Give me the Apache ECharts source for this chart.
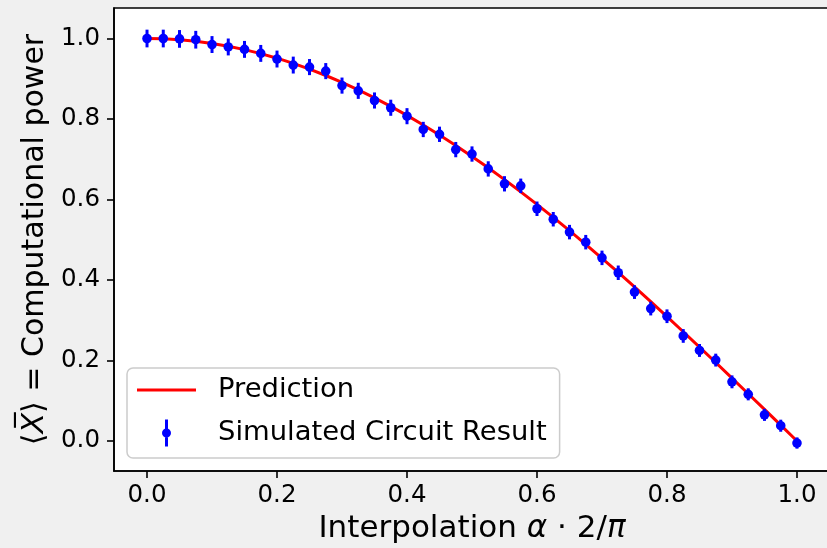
<!DOCTYPE html>
<html>
<head>
<meta charset="utf-8">
<script src="https://cdn.jsdelivr.net/npm/echarts@6/dist/echarts.min.js"></script>
<style>
html,body{margin:0;padding:0;background:#f0f0f0;}
#chart{width:827px;height:548px;}
</style>
</head>
<body>
<div id="chart"></div>
<script>
// Data
const xValues = [0, 0.025, 0.05, 0.075, 0.1, 0.125, 0.15, 0.175, 0.2, 0.225, 0.25, 0.275, 0.3, 0.325, 0.35, 0.375, 0.4, 0.425, 0.45, 0.475, 0.5, 0.525, 0.55, 0.575, 0.6, 0.625, 0.65, 0.675, 0.7, 0.725, 0.75, 0.775, 0.8, 0.825, 0.85, 0.875, 0.9, 0.925, 0.95, 0.975, 1.0];
const prediction = [1.0, 0.9992, 0.9969, 0.9931, 0.9877, 0.9808, 0.9724, 0.9625, 0.9511, 0.9382, 0.9239, 0.9081, 0.8910, 0.8725, 0.8526, 0.8315, 0.8090, 0.7853, 0.7604, 0.7343, 0.7071, 0.6788, 0.6494, 0.6191, 0.5878, 0.5556, 0.5225, 0.4886, 0.4540, 0.4187, 0.3827, 0.3461, 0.3090, 0.2714, 0.2334, 0.1951, 0.1564, 0.1175, 0.0785, 0.0393, 0.0];
const simulated = [1.000, 1.000, 0.999, 0.997, 0.985, 0.979, 0.973, 0.963, 0.949, 0.934, 0.929, 0.919, 0.883, 0.870, 0.846, 0.828, 0.807, 0.774, 0.762, 0.724, 0.713, 0.676, 0.639, 0.634, 0.577, 0.551, 0.519, 0.494, 0.455, 0.418, 0.370, 0.329, 0.310, 0.261, 0.225, 0.201, 0.147, 0.116, 0.065, 0.038, -0.005];
const simErrors = [0.022, 0.022, 0.022, 0.022, 0.021, 0.021, 0.021, 0.021, 0.021, 0.021, 0.020, 0.020, 0.020, 0.020, 0.020, 0.020, 0.020, 0.019, 0.019, 0.019, 0.019, 0.019, 0.019, 0.018, 0.018, 0.018, 0.018, 0.018, 0.018, 0.018, 0.017, 0.017, 0.017, 0.017, 0.016, 0.016, 0.016, 0.015, 0.015, 0.015, 0.014];
const tickValues = [0, 0.2, 0.4, 0.6, 0.8, 1.0];
const seriesNames = ['Prediction', 'Simulated Circuit Result'];

const FONT = 'DejaVu Sans';
const chart = echarts.init(document.getElementById('chart'));

const predData = xValues.map((x, i) => [x, prediction[i]]);
const simData = xValues.map((x, i) => [x, simulated[i], simErrors[i]]);

const lineIcon = 'path://M0 0 M59 28 M0 12.5 L59 12.5 L59 15.5 L0 15.5 Z';
const errIcon = 'path://M0 0 M59 28 M28 0.5 L31 0.5 L31 27.5 L28 27.5 Z M25 14 A4.5 4.5 0 1 1 34 14 A4.5 4.5 0 1 1 25 14 Z';

chart.setOption({
  backgroundColor: '#f0f0f0',
  animation: false,
  grid: {
    left: 114, top: 8, width: 716, bottom: 77,
    outerBoundsMode: 'none', containLabel: false,
    show: true, backgroundColor: '#ffffff', borderColor: '#000000', borderWidth: 1.6
  },
  legend: {
    orient: 'vertical',
    left: 127, top: 368,
    padding: [7, 13, 10, 10],
    itemWidth: 59, itemHeight: 28, itemGap: 13,
    backgroundColor: 'rgba(255,255,255,0.8)',
    borderColor: '#cccccc', borderWidth: 1.5, borderRadius: 6,
    textStyle: { fontFamily: FONT, fontSize: 27.4, color: '#000', padding: [0, 0, 0, 17], lineHeight: 30 },
    data: [
      { name: seriesNames[0], icon: lineIcon },
      { name: seriesNames[1], icon: errIcon }
    ]
  },
  xAxis: {
    type: 'value', min: -0.0508, max: 1.0508,
    splitLine: { show: false },
    axisLine: { show: true, onZero: false, lineStyle: { color: '#000', width: 1.6 } },
    axisTick: { show: true, inside: false, customValues: tickValues, length: 7, lineStyle: { color: '#000', width: 1.6 } },
    axisLabel: { customValues: tickValues, formatter: v => v.toFixed(1), fontFamily: FONT, fontSize: 24.5, color: '#000', margin: 12 },
    name: '{a|Interpolation }{i|α}{a| · 2/}{i|π}',
    nameLocation: 'middle', nameGap: 42,
    nameTextStyle: {
      rich: {
        a: { fontFamily: FONT, fontSize: 31, color: '#000' },
        i: { fontFamily: FONT, fontSize: 31, fontStyle: 'italic', color: '#000' }
      }
    }
  },
  yAxis: {
    type: 'value', min: -0.0745, max: 1.0758,
    splitLine: { show: false },
    axisLine: { show: true, onZero: false, lineStyle: { color: '#000', width: 1.6 } },
    axisTick: { show: true, inside: false, customValues: tickValues, length: 7, lineStyle: { color: '#000', width: 1.6 } },
    axisLabel: { customValues: tickValues, formatter: v => v.toFixed(1), fontFamily: FONT, fontSize: 24.5, color: '#000', margin: 14 },
    name: '{a|⟨}{i|X̅}{a|⟩ = Computational power}',
    nameLocation: 'middle', nameGap: 64,
    nameTextStyle: {
      rich: {
        a: { fontFamily: FONT, fontSize: 30, color: '#000' },
        i: { fontFamily: FONT, fontSize: 30, fontStyle: 'italic', color: '#000' }
      }
    }
  },
  series: [
    {
      name: seriesNames[0], type: 'line', data: predData,
      showSymbol: false, symbol: 'none',
      lineStyle: { color: '#ff0000', width: 3 },
      itemStyle: { color: '#ff0000' },
      z: 2
    },
    {
      name: seriesNames[1], type: 'custom', data: simData,
      itemStyle: { color: '#0000ff' },
      encode: { x: 0, y: 1 },
      z: 3,
      renderItem: function (params, api) {
        const x = api.value(0), y = api.value(1), e = api.value(2);
        const top = api.coord([x, y + e]);
        const bot = api.coord([x, y - e]);
        const c = api.coord([x, y]);
        return {
          type: 'group',
          children: [
            { type: 'line', shape: { x1: top[0], y1: top[1], x2: bot[0], y2: bot[1] }, style: { stroke: '#0000ff', lineWidth: 3 } },
            { type: 'circle', shape: { cx: c[0], cy: c[1], r: 4.8 }, style: { fill: '#0000ff' } }
          ]
        };
      }
    }
  ]
});
</script>
</body>
</html>
